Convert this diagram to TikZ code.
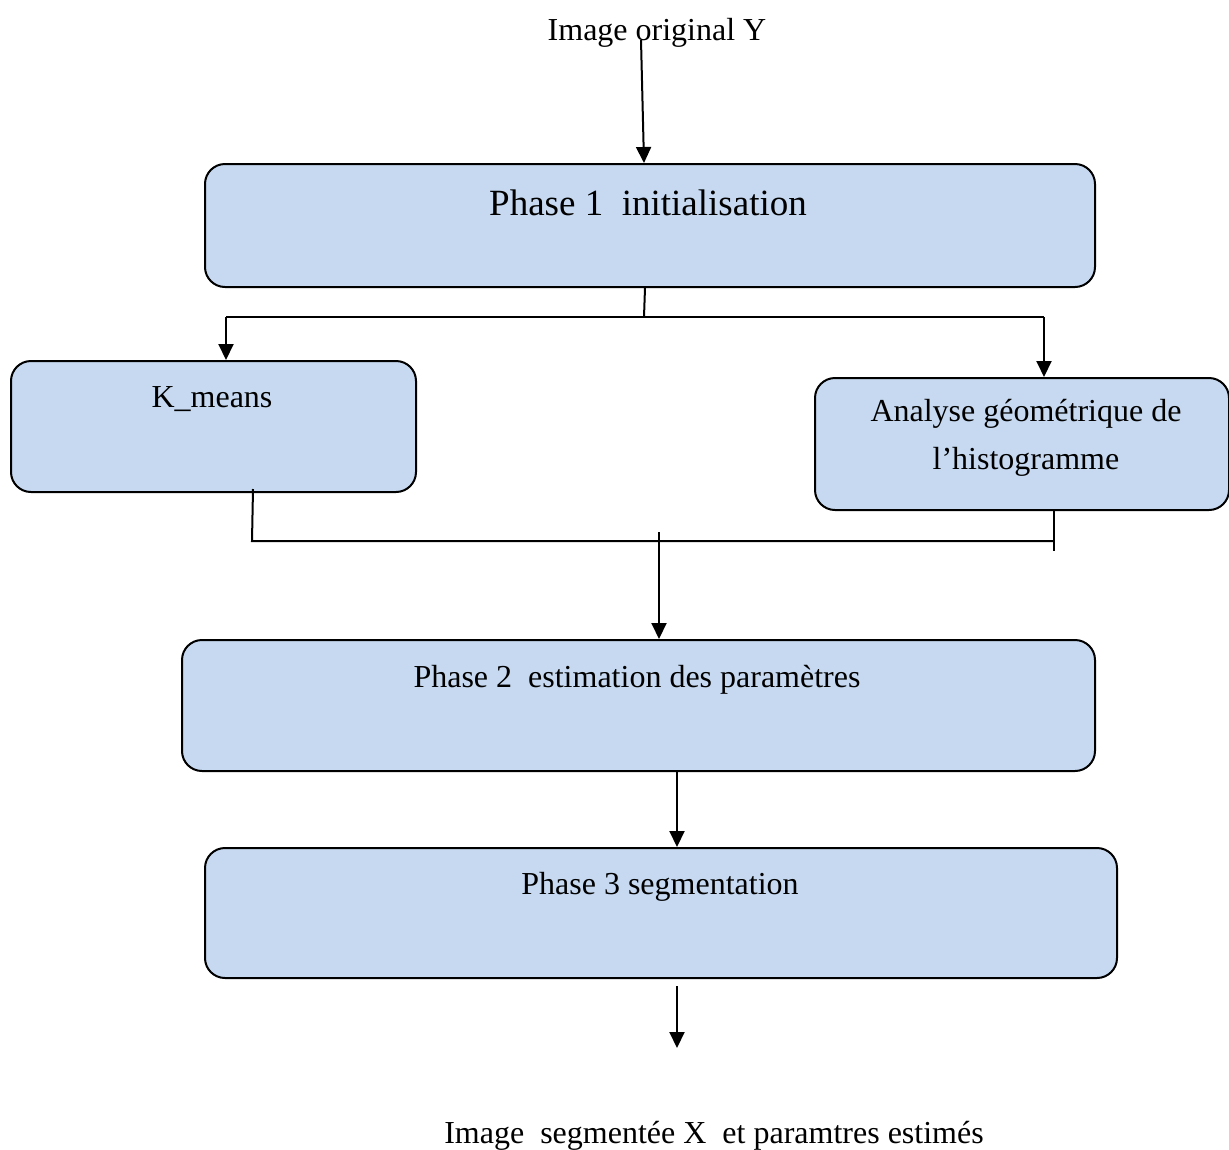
\documentclass[tikz,border=0pt]{standalone}
\usepackage{fontspec}
\setmainfont{Liberation Serif}
\usetikzlibrary{arrows.meta,calc}
\definecolor{boxblue}{HTML}{C6D9F1}
\begin{document}
\begin{tikzpicture}[x=1pt,y=-1pt,
  box/.style={draw, line width=2pt, fill=boxblue, rounded corners=20pt, anchor=north west, inner sep=0pt},
  lbl/.style={anchor=base, inner sep=0pt, font=\fontsize{32}{48}\selectfont, align=center},
  conn/.style={line width=2pt},
  arr/.style={line width=2pt, -{Triangle[width=15pt,length=16pt]}}]
\useasboundingbox (0,0) rectangle (1229,1149);
% boxes
\node[box, minimum width=890pt, minimum height=123pt] (b1) at (204,163) {};
\node[box, minimum width=405pt, minimum height=131pt] (km) at (10,360) {};
\node[box, minimum width=414pt, minimum height=132pt] (an) at (814,377) {};
\node[box, minimum width=913pt, minimum height=131pt] (b2) at (181,639) {};
\node[box, minimum width=912pt, minimum height=130pt] (b3) at (204,847) {};
% texts
\node[lbl] (title) at (657,40) {Image original Y};
\node[lbl, font=\fontsize{37}{44}\selectfont] (t1) at (648,215) {Phase 1\ \ initialisation};
\node[lbl] (tk) at (212,407) {K\_means};
\node[lbl, anchor=north] (ta) at (1026,399) {Analyse géométrique de\\l’histogramme};
\node[lbl] (t2) at (637,687) {Phase 2\ \ estimation des paramètres};
\node[lbl] (t3) at (660,894) {Phase 3 segmentation};
\node[lbl] (out) at (714,1143) {Image\ \ segmentée X\ \ et paramtres estimés};
% connectors
\coordinate (in0) at (641,40);
\draw[arr] (in0) -- ([xshift=-6pt]b1.north);
\coordinate (sp) at (644,317);
\coordinate (spl) at (226,317);
\coordinate (spr) at (1044,317);
\draw[conn] ([xshift=-5pt]b1.south) -- (sp);
\draw[conn] (spl) -- (spr);
\draw[arr] (spl) -- (km.north -| spl);
\draw[arr] (spr) -- (an.north -| spr);
\coordinate (jl) at (252,541);
\coordinate (jr) at (1054,541);
\coordinate (jre) at (1054,551);
\draw[conn] ([xshift=39.5pt,yshift=4pt]km.south) -- (jl) -- (jr);
\draw[conn] (an.south -| jr) -- (jre);
\coordinate (jm) at (659,532);
\draw[arr] (jm) -- (b2.north -| jm);
\coordinate (m2) at (677,770);
\draw[arr] (b2.south -| m2) -- (b3.north -| m2);
\coordinate (o1) at (677,986);
\coordinate (o2) at (677,1048);
\draw[arr] (o1) -- (o2);
\end{tikzpicture}
\end{document}
